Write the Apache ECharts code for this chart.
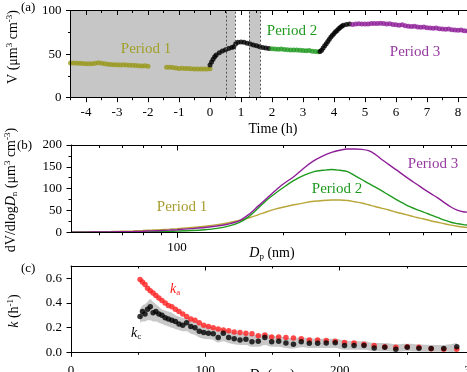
<!DOCTYPE html>
<html>
<head>
<meta charset="utf-8">
<script src="https://cdn.jsdelivr.net/npm/echarts@6/dist/echarts.min.js"></script>
<style>
html, body { margin: 0; padding: 0; background: #fff; }
#main { width: 467px; height: 372px; }
</style>
</head>
<body>
<div id="main"></div>
<script>
// ---- panel (a): total volume vs time, [h, V]
var period1 = [[-4.5,39.8],[-4.4,39.7],[-4.3,39.6],[-4.2,39.4],[-4.1,39.2],[-4.0,39],[-3.9,38.8],[-3.8,39],[-3.7,39.6],[-3.6,40],[-3.5,39.6],[-3.4,39],[-3.3,38.4],[-3.2,38],[-3.1,37.8],[-3.0,37.8],[-2.9,37.6],[-2.8,37.7],[-2.7,37.4],[-2.6,37.2],[-2.5,37.2],[-2.4,37],[-2.3,36.6],[-2.2,36.4],[-2.1,36.5],[-2.0,36.2],[-1.4,35],[-1.3,34.8],[-1.2,34.6],[-1.1,34],[-1.0,33.6],[-0.9,33.8],[-0.8,33.5],[-0.7,33.4],[-0.6,33.2],[-0.5,33],[-0.4,33],[-0.3,32.8],[-0.2,32.8],[-0.1,33],[0.0,33.2]];
var transit1 = [[0.0,37.5],[0.05,41],[0.1,44],[0.15,47],[0.2,49],[0.3,51.5],[0.4,53.5],[0.5,55],[0.6,56.5],[0.7,57.5],[0.77,58.5],[0.83,62],[0.9,63.5],[1.0,64],[1.1,63.5],[1.2,62.5],[1.3,61.5],[1.4,60.5],[1.5,59.5],[1.6,58.5],[1.7,57.5],[1.8,57],[1.9,56.5]];
var period2 = [[2.0,56],[2.1,55.8],[2.2,55.6],[2.3,55.8],[2.4,55.4],[2.5,55],[2.6,54.8],[2.7,54.6],[2.8,54.8],[2.9,54.4],[3.0,54],[3.1,53.8],[3.2,54],[3.3,53.4],[3.4,53],[3.5,52.6]];
var transit2 = [[3.55,53],[3.6,54.5],[3.65,57],[3.7,59.5],[3.75,62],[3.8,64.5],[3.85,67],[3.9,69.5],[3.95,71.5],[4.0,73.5],[4.05,75.5],[4.1,77],[4.15,79],[4.2,80.5],[4.25,82],[4.3,83],[4.4,84],[4.5,84.5]];
var period3 = [[4.6,84],[4.7,84.5],[4.8,84.8],[4.9,84.5],[5.0,84.6],[5.1,84.4],[5.2,85],[5.3,85.2],[5.4,85],[5.5,85.4],[5.6,85],[5.7,84.6],[5.8,84.8],[5.9,84],[6.0,83.6],[6.1,83.2],[6.2,83.6],[6.3,82.6],[6.4,82],[6.5,81.6],[6.6,82],[6.7,81.2],[6.8,80.8],[6.9,81],[7.0,80.2],[7.1,80],[7.2,79.6],[7.3,79.8],[7.4,79.2],[7.5,78.8],[7.6,78.6],[7.7,78.8],[7.8,78],[7.9,77.6],[8.0,77.4],[8.1,77.6],[8.2,76.8],[8.3,76.5],[8.4,76.8],[8.5,76.4]];
var shadeSpans = [[-4.5, 0.81], [1.26, 1.62]];
var dashLines = [0.54, 0.81, 1.26, 1.62];
var timeTicks = [-4, -3, -2, -1, 0, 1, 2, 3, 4, 5, 6, 7, 8];

// ---- panel (b): volume size distributions
var dpB = [50,55,60,65,70,75,80,85,90,95,100,110,120,130,140,150,160,170,180,190,200,215,230,245,260,275,290,305,320,335,350,365,380,400,420,440,460,480,500,525,550,575,600,625,650,675,700];
var distP1 = [0.5,0.8,1.2,1.7,2.4,3.2,4.1,5.1,6.2,7.3,8.5,11,14,17.5,22,27,33,40,47,53,57.5,63,67.5,71,73,74,74,73,70,67,63,59,55.5,51,46,42,38,34,31,26.5,23,19.5,16.5,14,12,10.5,9];
var distP2 = [0,0,0.1,0.2,0.3,0.5,0.8,1.1,1.5,2,2.6,4,6,9,14,22,36,55,74,89,102,119,131,139,142,144,142,139,130,121,112,104,96,85,75,66,58,52,47,40,34,28,23,20,17.5,16.5,15.5];
var distP3 = [0.3,0.5,0.7,1,1.4,1.9,2.5,3.2,4,5,6,8.5,11,14.5,19,26,41,60,78,95,110,128,148,164,175,183,188,191,191,190,187,179,168,155,143,131,120,110,100,89,79,68,58,51,47,46,45];
var dpMajorTicks = [100];
var dpMinorTicks = [60, 70, 80, 90, 200, 300, 400, 500, 600];

// ---- panel (c): rate coefficients
var dpC = [51.4,53.2,55.1,57.0,59.0,61.1,63.2,65.4,67.7,70.1,72.5,75.1,77.7,80.4,83.2,86.1,89.2,92.3,95.5,98.8,102.3,105.9,109.6,113.4,117.4,121.5,125.8,130.2,134.7,139.4,144.3,149.4,154.6,160.0,165.6,171.4,177.4,183.6,190.0,196.7,203.6,210.7,218.1,225.7,233.6,241.8,250.3,259.0,268.1,277.5,287.2];
var kA = [0.59,0.57,0.55,0.52,0.50,0.48,0.46,0.44,0.42,0.40,0.38,0.37,0.35,0.33,0.31,0.29,0.27,0.26,0.24,0.22,0.21,0.20,0.19,0.18,0.175,0.165,0.16,0.155,0.15,0.135,0.14,0.125,0.125,0.12,0.115,0.11,0.10,0.10,0.095,0.09,0.08,0.075,0.065,0.055,0.045,0.04,0.045,0.04,0.028,0.025,0.025];
var kC = [0.29,0.33,0.31,0.35,0.37,0.32,0.33,0.31,0.30,0.28,0.27,0.26,0.25,0.23,0.22,0.24,0.21,0.20,0.17,0.16,0.155,0.15,0.12,0.155,0.12,0.11,0.10,0.105,0.085,0.09,0.12,0.085,0.09,0.075,0.065,0.085,0.073,0.073,0.075,0.078,0.055,0.055,0.055,0.035,0.04,0.025,0.04,0.032,0.03,0.03,0.045];
var kcHi = [0.35,0.38,0.39,0.41,0.43,0.41,0.39,0.37,0.35,0.34,0.33,0.32,0.30,0.29,0.28,0.28,0.26,0.25,0.23,0.22,0.21,0.20,0.19,0.19,0.17,0.16,0.155,0.15,0.14,0.14,0.155,0.135,0.13,0.12,0.115,0.12,0.115,0.11,0.11,0.11,0.095,0.09,0.09,0.075,0.075,0.065,0.07,0.065,0.06,0.06,0.075];
var kcLo = [0.24,0.25,0.25,0.26,0.26,0.25,0.25,0.24,0.23,0.22,0.21,0.20,0.19,0.18,0.17,0.17,0.15,0.14,0.12,0.11,0.105,0.10,0.08,0.09,0.075,0.065,0.06,0.06,0.045,0.045,0.06,0.045,0.045,0.035,0.03,0.04,0.035,0.035,0.035,0.035,0.02,0.02,0.02,0.008,0.008,0.003,0.008,0.005,0.004,0.004,0.012];
var kTicks = [0, 0.2, 0.4, 0.6];

var serif = '"Liberation Serif", "DejaVu Serif", serif';
var OLIVE = '#98981c', OLIVE_B = '#b8a638', GREEN = '#1f9a1f', PURPLE = '#8e1e98', RED = '#ff1e1e';

function zip(xs, ys) {
    return xs.map(function (x, i) { return [x, ys[i]]; });
}

function axisBase(grid, extra) {
    var o = {
        gridIndex: grid, type: 'value', z: 5,
        axisLine: { show: true, onZero: false, lineStyle: { color: '#000', width: 1 } },
        axisTick: { show: true, length: 4.5, lineStyle: { color: '#000', width: 1 } },
        axisLabel: { show: true, color: '#000', fontFamily: serif, fontSize: 13, margin: 8 },
        splitLine: { show: false }
    };
    for (var k in extra) o[k] = extra[k];
    return o;
}
function minorAxis(grid, extra) {
    return axisBase(grid, Object.assign({
        axisLine: { show: false, onZero: false },
        axisTick: { show: true, length: 2.5, lineStyle: { color: '#000' } },
        axisLabel: { show: false }
    }, extra));
}

var rich = {
    sup: { fontSize: 9, lineHeight: 10, verticalAlign: 'top', fontFamily: serif },
    sub: { fontSize: 9, lineHeight: 10, verticalAlign: 'bottom', fontFamily: serif },
    i: { fontStyle: 'italic', fontSize: 14, lineHeight: 16, fontFamily: serif }
};
function txt(x, y, text, color, size, rot, align) {
    return {
        type: 'text', x: x, y: y, rotation: rot || 0, z: 100,
        style: {
            text: text, fill: color, fontFamily: serif, fontSize: size, lineHeight: 16,
            align: align || 'center', verticalAlign: 'middle', rich: rich
        }
    };
}

var chart = echarts.init(document.getElementById('main'));

var option = {
    animation: false,
    backgroundColor: '#fff',
    grid: [
        { left: 70.5, top: 10.5, width: 403, height: 87.2, outerBoundsMode: 'none', containLabel: false },
        { left: 71, top: 145, width: 403.5, height: 87.3, outerBoundsMode: 'none', containLabel: false },
        { left: 71, top: 266, width: 403, height: 86.3, outerBoundsMode: 'none', containLabel: false }
    ],
    xAxis: [
        axisBase(0, { min: -4.5, max: 8.5, position: 'bottom',
            axisTick: { show: true, length: 4.5, customValues: timeTicks, lineStyle: { color: '#000' } },
            axisLabel: { show: true, customValues: timeTicks, color: '#000', fontFamily: serif, fontSize: 13, margin: 8 } }),
        minorAxis(0, { min: -4.5, max: 8.5, interval: 0.5, position: 'bottom' }),
        axisBase(0, { min: -4.5, max: 8.5, position: 'top',
            axisTick: { show: true, inside: true, length: 4.5, customValues: timeTicks, lineStyle: { color: '#000' } },
            axisLabel: { show: false } }),
        minorAxis(0, { min: -4.5, max: 8.5, interval: 0.5, position: 'top',
            axisTick: { show: true, inside: true, length: 2.5, lineStyle: { color: '#000' } } }),

        axisBase(1, { type: 'log', logBase: 10, min: 50, max: 700, position: 'bottom',
            axisTick: { show: true, length: 5.5, customValues: dpMajorTicks, lineStyle: { color: '#000' } },
            axisLabel: { show: true, customValues: dpMajorTicks, color: '#000', fontFamily: serif, fontSize: 13, margin: 9 } }),
        minorAxis(1, { type: 'log', logBase: 10, min: 50, max: 700, position: 'bottom',
            axisTick: { show: true, length: 3, customValues: dpMinorTicks, lineStyle: { color: '#000' } } }),
        axisBase(1, { type: 'log', logBase: 10, min: 50, max: 700, position: 'top',
            axisTick: { show: true, inside: true, length: 5.5, customValues: dpMajorTicks, lineStyle: { color: '#000' } },
            axisLabel: { show: false } }),
        minorAxis(1, { type: 'log', logBase: 10, min: 50, max: 700, position: 'top',
            axisTick: { show: true, inside: true, length: 3, customValues: dpMinorTicks, lineStyle: { color: '#000' } } }),

        axisBase(2, { min: 0, max: 300, interval: 100, position: 'bottom',
            minorTick: { show: true, splitNumber: 2, length: 2.5, lineStyle: { color: '#000' } },
            axisLabel: { show: true, color: '#000', fontFamily: serif, fontSize: 13, margin: 12 } }),
        axisBase(2, { min: 0, max: 300, interval: 100, position: 'top',
            axisTick: { show: true, inside: true, length: 4.5, lineStyle: { color: '#000' } },
            minorTick: { show: true, splitNumber: 2, length: 2.5, lineStyle: { color: '#000' } },
            axisLabel: { show: false } })
    ],
    yAxis: [
        axisBase(0, { min: 0, max: 100, interval: 50,
            minorTick: { show: true, splitNumber: 2, length: 2.5, lineStyle: { color: '#000' } },
            axisLabel: { show: true, color: '#000', fontFamily: serif, fontSize: 13, margin: 9 } }),
        axisBase(1, { min: 0, max: 200, interval: 50,
            minorTick: { show: true, splitNumber: 2, length: 2.5, lineStyle: { color: '#000' } },
            axisLabel: { show: true, color: '#000', fontFamily: serif, fontSize: 13, margin: 9 } }),
        axisBase(2, { min: 0, max: 0.7,
            axisTick: { show: true, length: 4.5, customValues: kTicks, lineStyle: { color: '#000' } },
            axisLabel: { show: true, customValues: kTicks, color: '#000', fontFamily: serif, fontSize: 13, margin: 9,
                formatter: function (v) { return v.toFixed(1); } } }),
        minorAxis(2, { min: 0, max: 0.7, interval: 0.1 })
    ],
    series: [
        // (a) shaded periods and dashed markers
        {
            type: 'line', xAxisIndex: 0, yAxisIndex: 0, data: [], z: 1, silent: true,
            markArea: {
                silent: true, itemStyle: { color: '#c6c6c6' },
                data: shadeSpans.map(function (s) { return [{ xAxis: s[0], yAxis: 0 }, { xAxis: s[1], yAxis: 100 }]; })
            },
            markLine: {
                silent: true, symbol: ['none', 'none'], label: { show: false },
                lineStyle: { type: [2, 2], color: '#555', width: 1 },
                data: dashLines.map(function (x) { return { xAxis: x }; })
            }
        },
        { type: 'scatter', xAxisIndex: 0, yAxisIndex: 0, data: period1, symbolSize: 5, itemStyle: { color: OLIVE }, z: 3 },
        { type: 'scatter', xAxisIndex: 0, yAxisIndex: 0, data: transit1, symbolSize: 5, itemStyle: { color: '#000' }, z: 3 },
        { type: 'scatter', xAxisIndex: 0, yAxisIndex: 0, data: period2, symbolSize: 5, itemStyle: { color: GREEN }, z: 3 },
        { type: 'scatter', xAxisIndex: 0, yAxisIndex: 0, data: transit2, symbolSize: 5, itemStyle: { color: '#000' }, z: 3 },
        { type: 'scatter', xAxisIndex: 0, yAxisIndex: 0, data: period3, symbolSize: 5, itemStyle: { color: PURPLE }, z: 3 },

        // (b) size distributions
        { type: 'line', xAxisIndex: 4, yAxisIndex: 1, data: zip(dpB, distP1), showSymbol: false, smooth: 0.3,
          lineStyle: { color: OLIVE_B, width: 1.4 }, z: 3 },
        { type: 'line', xAxisIndex: 4, yAxisIndex: 1, data: zip(dpB, distP2), showSymbol: false, smooth: 0.3,
          lineStyle: { color: GREEN, width: 1.4 }, z: 3 },
        { type: 'line', xAxisIndex: 4, yAxisIndex: 1, data: zip(dpB, distP3), showSymbol: false, smooth: 0.3,
          lineStyle: { color: PURPLE, width: 1.4 }, z: 3 },

        // (c) uncertainty band of k_c (grey up to kcHi, white below kcLo)
        { type: 'line', xAxisIndex: 8, yAxisIndex: 2, data: zip(dpC, kcHi), showSymbol: false, smooth: 0.4,
          lineStyle: { width: 0 }, areaStyle: { color: '#c8c8c8', opacity: 1 }, z: 1, silent: true },
        { type: 'line', xAxisIndex: 8, yAxisIndex: 2, data: zip(dpC, kcLo), showSymbol: false, smooth: 0.4,
          lineStyle: { width: 0 }, areaStyle: { color: '#fff', opacity: 1 }, z: 1, silent: true },
        { type: 'scatter', xAxisIndex: 8, yAxisIndex: 2, data: zip(dpC, kA), symbolSize: 5.5, itemStyle: { color: RED }, z: 3 },
        { type: 'scatter', xAxisIndex: 8, yAxisIndex: 2, data: zip(dpC, kC), symbolSize: 5.5, itemStyle: { color: '#000' }, z: 4 }
    ],
    graphic: [
        txt(21, 8, '(a)', '#000', 13, 0, 'left'),
        txt(17, 146, '(b)', '#000', 13, 0, 'left'),
        txt(21, 269, '(c)', '#000', 13, 0, 'left'),

        txt(13, 47, 'V (μm{sup|3} cm{sup|-3})', '#000', 14, Math.PI / 2),
        txt(11, 190, 'dV/dlog{i|D}{sub|n} (μm{sup|3} cm{sup|-3})', '#000', 14, Math.PI / 2),
        txt(14, 311, '{i|k} (h{sup|-1})', '#000', 14, Math.PI / 2),

        txt(273, 129, 'Time (h)', '#000', 14),
        txt(272, 253, '{i|D}{sub|p} (nm)', '#000', 14),
        txt(272, 375, '{i|D}{sub|p} (nm)', '#000', 14),

        txt(146, 49, 'Period 1', '#a0a02a', 15),
        txt(292, 31, 'Period 2', GREEN, 15),
        txt(415, 52, 'Period 3', '#963aa0', 15),
        txt(182, 207, 'Period 1', '#a89c30', 15),
        txt(337, 189, 'Period 2', GREEN, 15),
        txt(433, 164, 'Period 3', '#963aa0', 15),

        txt(170, 289, '{i|k}{sub|a}', RED, 15, 0, 'left'),
        txt(131, 333, '{i|k}{sub|c}', '#000', 15, 0, 'left')
    ]
};

chart.setOption(option);
</script>
</body>
</html>
